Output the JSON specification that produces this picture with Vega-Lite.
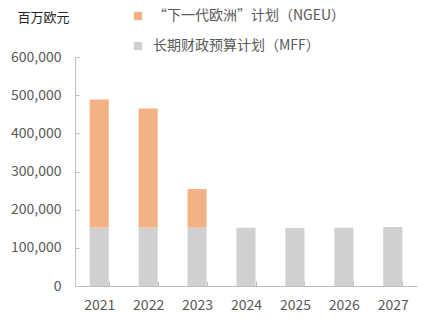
{
  "$schema": "https://vega.github.io/schema/vega-lite/v6.json",
  "width": 342,
  "height": 229,
  "autosize": "none",
  "padding": {"left": 75, "top": 57, "right": 11, "bottom": 36},
  "config": {
    "view": {"stroke": null},
    "font": "Noto Sans CJK SC",
    "axis": {"labelColor": "#595959", "labelFontSize": 14, "domainColor": "#BFBFBF", "tickColor": "#BFBFBF", "grid": false, "titleColor": "#262626", "labelFont": "Noto Sans CJK SC"}
  },
  "data": {
    "values": [
      {"year": "2021", "series": "长期财政预算计划（MFF）", "order": 1, "value": 153000},
      {"year": "2022", "series": "长期财政预算计划（MFF）", "order": 1, "value": 153500},
      {"year": "2023", "series": "长期财政预算计划（MFF）", "order": 1, "value": 153000},
      {"year": "2024", "series": "长期财政预算计划（MFF）", "order": 1, "value": 152500},
      {"year": "2025", "series": "长期财政预算计划（MFF）", "order": 1, "value": 152000},
      {"year": "2026", "series": "长期财政预算计划（MFF）", "order": 1, "value": 152500},
      {"year": "2027", "series": "长期财政预算计划（MFF）", "order": 1, "value": 154500},
      {"year": "2021", "series": "“下一代欧洲”计划（NGEU）", "order": 2, "value": 335500},
      {"year": "2022", "series": "“下一代欧洲”计划（NGEU）", "order": 2, "value": 311500},
      {"year": "2023", "series": "“下一代欧洲”计划（NGEU）", "order": 2, "value": 101000}
    ]
  },
  "mark": {"type": "bar"},
  "encoding": {
    "x": {
      "field": "year", "type": "ordinal",
      "scale": {"paddingInner": 0.61, "paddingOuter": 0.3},
      "axis": {"title": null, "labelAngle": 0, "tickBand": "extent", "tickSize": -5, "labelPadding": 17}
    },
    "y": {
      "field": "value", "type": "quantitative", "aggregate": "sum", "stack": "zero",
      "scale": {"domain": [0, 600000], "nice": false},
      "axis": {
        "values": [0, 100000, 200000, 300000, 400000, 500000, 600000],
        "format": ",d", "tickSize": -4, "labelPadding": 18,
        "title": "百万欧元", "titleAngle": 0, "titleAlign": "left", "titleBaseline": "alphabetic",
        "titleX": -58, "titleY": -36, "titleFontSize": 13, "titleFontWeight": "normal"
      }
    },
    "color": {
      "field": "series", "type": "nominal",
      "scale": {"domain": ["“下一代欧洲”计划（NGEU）", "长期财政预算计划（MFF）"], "range": ["#F4B183", "#D0D0D0"]},
      "legend": {
        "title": null, "orient": "none", "legendX": 56, "legendY": -48, "direction": "vertical",
        "symbolType": "square", "symbolSize": 70, "symbolStrokeWidth": 0,
        "labelFontSize": 14, "labelColor": "#595959", "rowPadding": 16, "labelOffset": 8, "labelLimit": 400
      }
    },
    "order": {"field": "order", "type": "quantitative"}
  }
}
